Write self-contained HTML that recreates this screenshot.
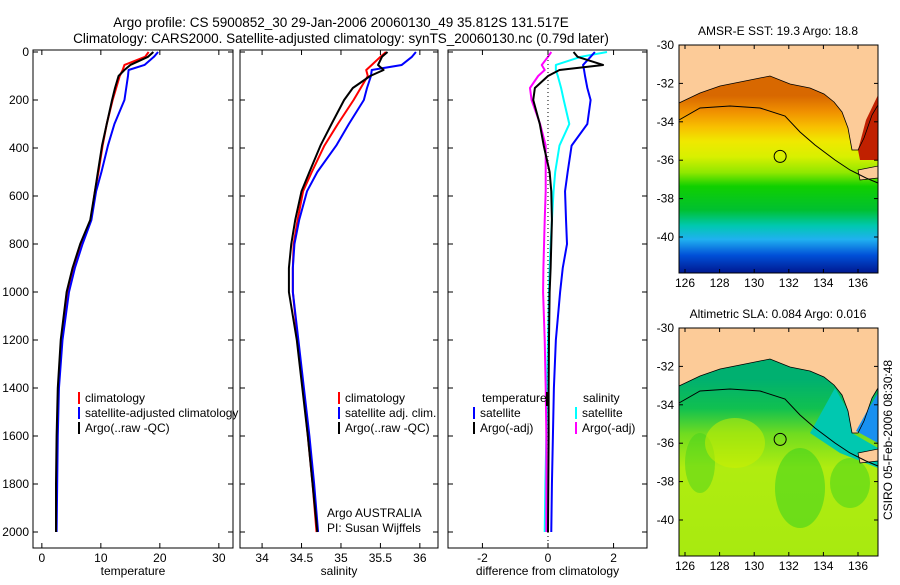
<!DOCTYPE html>
<html><head><meta charset="utf-8"><style>
body{margin:0;background:#fff;}
svg{font-family:"Liberation Sans",sans-serif;font-size:12px;}
</style></head><body>
<svg id="fig" width="900" height="580" viewBox="0 0 900 580" xmlns="http://www.w3.org/2000/svg">
<rect width="900" height="580" fill="#fff"/>
<text x="341" y="27" text-anchor="middle" font-size="13.5">Argo profile: CS 5900852_30 29-Jan-2006 20060130_49 35.812S 131.517E</text>
<text x="341" y="43" text-anchor="middle" font-size="13.5">Climatology: CARS2000. Satellite-adjusted climatology: synTS_20060130.nc (0.79d later)</text>
<g id="panels"></g>
<defs>
<linearGradient id="sst" x1="0" y1="0" x2="0" y2="1">
<stop offset="0.1" stop-color="#d86800"/><stop offset="0.18" stop-color="#f09000"/><stop offset="0.26" stop-color="#f8c000"/>
<stop offset="0.33" stop-color="#f0e800"/><stop offset="0.41" stop-color="#d8f000"/><stop offset="0.49" stop-color="#90e800"/>
<stop offset="0.56" stop-color="#10d000"/><stop offset="0.68" stop-color="#00c030"/><stop offset="0.76" stop-color="#00c8b0"/>
<stop offset="0.83" stop-color="#20b0f0"/><stop offset="0.91" stop-color="#0050d8"/><stop offset="1" stop-color="#001890"/>
</linearGradient>
<linearGradient id="sla" x1="0" y1="0" x2="0" y2="1">
<stop offset="0.1" stop-color="#00b070"/><stop offset="0.25" stop-color="#10c050"/><stop offset="0.38" stop-color="#70dc20"/>
<stop offset="0.55" stop-color="#b0ec10"/><stop offset="1" stop-color="#a8ea10"/>
</linearGradient>
</defs>
<g id="maps"></g>
<text transform="translate(892,440) rotate(-90)" text-anchor="middle" font-size="12">CSIRO 05-Feb-2006 08:30:48</text>
</svg>
<script>
const NS="http://www.w3.org/2000/svg";
// ---- data ----
const depthTicks=[0,200,400,600,800,1000,1200,1400,1600,1800,2000];
const tempTicks=[0,10,20,30];
const salTicks=[34,34.5,35,35.5,36];
const salTickLabels=["34","34.5","35","35.5","36"];
const diffTicks=[-2,0,2];
const depths=[0,20,54,75,100,150,200,300,390,500,580,700,800,900,1000,1200,1400,1600,1800,2000];
const tempClim=[18.1,17.5,14.0,13.7,13.2,12.6,12.0,11.0,10.3,9.6,9.0,8.3,6.6,5.4,4.5,3.3,2.8,2.6,2.5,2.4];
const tempArgo=[18.9,18.0,15.0,14.0,13.0,12.4,11.9,11.0,10.2,9.5,9.0,8.2,6.5,5.2,4.2,3.2,2.7,2.5,2.4,2.4];
const tempSat=[19.7,19.0,17.4,14.7,14.6,14.3,14.0,12.3,11.2,10.1,9.2,8.4,6.9,5.6,4.6,3.5,2.9,2.7,2.6,2.5];
const salClim=[35.57,35.50,35.39,35.32,35.34,35.25,35.16,34.96,34.79,34.63,34.52,34.45,34.40,34.39,34.39,34.45,34.52,34.58,34.64,34.69];
const salArgo=[35.59,35.52,35.47,35.54,35.37,35.15,35.04,34.88,34.74,34.60,34.50,34.42,34.37,34.34,34.34,34.44,34.51,34.58,34.64,34.70];
const salSat=[35.95,35.90,35.77,35.39,35.38,35.33,35.29,35.10,34.94,34.70,34.57,34.47,34.41,34.39,34.39,34.46,34.53,34.60,34.66,34.71];
const dTempSat=[1.43,1.3,1.07,1.1,1.13,1.2,1.3,1.2,0.72,0.6,0.52,0.55,0.58,0.45,0.37,0.24,0.18,0.15,0.12,0.1];
const dTempArgo=[0.78,0.9,1.68,0.35,0.0,-0.4,-0.45,-0.25,-0.13,0.05,0.1,0.12,0.1,0.08,0.05,0.03,0.02,0.02,0.01,0.0];
const dSalSat=[1.8,1.0,0.24,0.24,0.3,0.4,0.48,0.65,0.35,0.22,0.17,0.12,0.08,0.05,0.03,0.0,-0.03,-0.05,-0.08,-0.1];
const dSalArgo=[0.1,0.0,-0.19,-0.1,-0.3,-0.55,-0.5,-0.24,-0.07,-0.07,-0.07,-0.1,-0.12,-0.14,-0.15,-0.1,-0.07,-0.05,-0.05,-0.05];

function el(tag,attrs,parent,text){const e=document.createElementNS(NS,tag);for(const k in attrs)e.setAttribute(k,attrs[k]);if(text!==undefined)e.textContent=text;parent.appendChild(e);return e;}
const yD=d=>52+d*0.24;
const root=document.getElementById('panels');
function panel(name,x0,x1,vmin,vmax,ticks,labels,xlabel,series,showY){
  const g=el('g',{},root);
  
  
  const sx=v=>x0+(v-vmin)/(vmax-vmin)*(x1-x0);
  const top=50,bot=548;
  ticks.forEach((t,i)=>{const x=sx(t);
    el('line',{x1:x,x2:x,y1:top,y2:top+5,stroke:'#000'},g);
    el('line',{x1:x,x2:x,y1:bot,y2:bot-5,stroke:'#000'},g);
    const tl=el('text',{x:x,y:bot+14,'text-anchor':'middle'},g,labels[i]);
    
    
  });
  depthTicks.forEach(d=>{const y=yD(d);
    el('line',{x1:x0,x2:x0+5,y1:y,y2:y,stroke:'#000'},g);
    el('line',{x1:x1,x2:x1-5,y1:y,y2:y,stroke:'#000'},g);
    if(showY){const tl=el('text',{x:x0-4,y:y+4,'text-anchor':'end'},g,String(d));
      
      }
  });
  const xl=el('text',{x:(x0+x1)/2,y:575,'text-anchor':'middle'},g,xlabel);
  
  
  series.forEach(s=>{
    const p=el('polyline',{points:s.v.map((v,i)=>sx(v)+','+yD(depths[i])).join(' '),fill:'none',stroke:s.c,'stroke-width':2,'stroke-linejoin':'round'},g);
    
    
  });
  const fr=el('rect',{x:x0,y:top,width:x1-x0,height:bot-top,fill:'none',stroke:'#000'},g);
  
  
  return {g,sx};
}
panel('temperature-panel',33,233,-1.5,32.4,tempTicks,tempTicks.map(String),'temperature',[
 {n:'temp-climatology',c:'#f00',v:tempClim},{n:'temp-satellite-adjusted',c:'#00f',v:tempSat},{n:'temp-argo',c:'#000',v:tempArgo}],true);
panel('salinity-panel',240,438,33.72,36.23,salTicks,salTickLabels,'salinity',[
 {n:'sal-climatology',c:'#f00',v:salClim},{n:'sal-satellite-adjusted',c:'#00f',v:salSat},{n:'sal-argo',c:'#000',v:salArgo}],false);
const p3=panel('difference-panel',448,647,-3.05,3.02,diffTicks,diffTicks.map(String),'difference from climatology',[
 {n:'diff-salinity-satellite',c:'#0ff',v:dSalSat},{n:'diff-temp-satellite',c:'#00f',v:dTempSat},{n:'diff-salinity-argo',c:'#f0f',v:dSalArgo},{n:'diff-temp-argo',c:'#000',v:dTempArgo}],false);
el('line',{x1:p3.sx(0),x2:p3.sx(0),y1:52,y2:548,stroke:'#000','stroke-dasharray':'1,3'},p3.g);

function legend(x,y,items){
  items.forEach((it,i)=>{const yy=y+i*15;
    const l=el('line',{x1:x,x2:x,y1:yy-10,y2:yy+2,stroke:it[1],'stroke-width':2},root);
    
    
    const t=el('text',{x:x+6,y:yy},root,it[0]);
    
    
  });
}
legend(79,402,[['climatology','#f00'],['satellite-adjusted climatology','#00f'],['Argo(..raw -QC)','#000']]);
legend(339,402,[['climatology','#f00'],['satellite adj. clim.','#00f'],['Argo(..raw -QC)','#000']]);
legend(474,417,[['satellite','#00f'],['Argo(-adj)','#000']]);
legend(576,417,[['satellite','#0ff'],['Argo(-adj)','#f0f']]);
[['temperature',482,402],['salinity',583,402]].forEach(a=>{const t=el('text',{x:a[1],y:a[2]},root,a[0]);
  
  });
const r1=el('rect',{x:546,y:392,width:3,height:14,fill:'#000'},root);


[['Argo AUSTRALIA',517],['PI: Susan Wijffels',532]].forEach(a=>{const t=el('text',{x:327,y:a[1]},root,a[0]);
  
  });

// ---- maps ----
const maps=document.getElementById('maps');
const lonTicks=[126,128,130,132,134,136];
const latTicks=[-30,-32,-34,-36,-38,-40];
function map(name,y0,fill,title,extra){
  const g=el('g',{},maps);
  
  
  const x0=679,x1=878,y1=y0+228;
  const lx=v=>685+(v-126)*17.3, ly=v=>y0+(-30-v)*19.2;
  el('rect',{x:x0,y:y0,width:x1-x0,height:y1-y0,fill:'#fccb98'},g);
  const o=y0-45;
  const coast=[[679,103],[700,93],[720,86],[745,81],[770,76],[790,84],[810,88],[824,94],[834,102],[842,112],[848,128],[852,150],[858,150],[864,138],[872,115],[878,105],[878,273],[679,273]];
  el('polygon',{points:coast.map(p=>p[0]+','+(p[1]+o)).join(' '),fill:'url(#'+fill+')'},g);
  extra(g,o);
  el('polygon',{points:'858,'+(170+o)+' 878,'+(166+o)+' 878,'+(178+o)+' 860,'+(180+o),fill:'#fccb98',stroke:'#000','stroke-width':0.7},g);
  el('polyline',{points:[[679,120],[700,108],[730,106],[760,108],[785,116],[800,132],[815,145],[835,160],[850,170],[866,178],[878,183]].map(p=>p[0]+','+(p[1]+o)).join(' '),fill:'none',stroke:'#000','stroke-width':1},g);
  el('polyline',{points:coast.slice(0,16).map(p=>p[0]+','+(p[1]+o)).join(' '),fill:'none',stroke:'#000','stroke-width':0.8},g);
  const c=el('circle',{cx:lx(131.5),cy:ly(-35.8),r:6,fill:'none',stroke:'#000','stroke-width':1},g);
  
  
  el('rect',{x:x0,y:y0,width:x1-x0,height:y1-y0,fill:'none',stroke:'#000'},g);
  lonTicks.forEach(v=>{const x=lx(v);el('line',{x1:x,x2:x,y1:y1,y2:y1-4,stroke:'#000'},g);el('line',{x1:x,x2:x,y1:y0,y2:y0+4,stroke:'#000'},g);
    const t=el('text',{x:x,y:y1+14,'text-anchor':'middle'},g,String(v));
    
    });
  latTicks.forEach(v=>{const y=ly(v);el('line',{x1:x0,x2:x0+4,y1:y,y2:y,stroke:'#000'},g);el('line',{x1:x1,x2:x1-4,y1:y,y2:y,stroke:'#000'},g);
    const t=el('text',{x:x0-5,y:y+4,'text-anchor':'end'},g,String(v));
    
    });
  const t=el('text',{x:778,y:y0-10,'text-anchor':'middle'},g,title);
  
  
}
map('sst-map',45,'sst','AMSR-E SST: 19.3 Argo: 18.8',(g,o)=>{
  el('polygon',{points:'858,'+(150+o)+' 866,'+(120+o)+' 878,'+(95+o)+' 878,'+(160+o)+' 860,'+(160+o),fill:'#c02000'},g);
});
map('sla-map',328,'sla','Altimetric SLA: 0.084 Argo: 0.016',(g,o)=>{
  el('polygon',{points:'835,'+(105+o)+' 848,'+(128+o)+' 852,'+(150+o)+' 878,'+(165+o)+' 878,'+(185+o)+' 840,'+(170+o)+' 810,'+(150+o),fill:'#00c8b0'},g);
  el('polygon',{points:'856,'+(148+o)+' 866,'+(130+o)+' 878,'+(110+o)+' 878,'+(160+o),fill:'#1890f0'},g);
  el('ellipse',{cx:800,cy:205+o,rx:25,ry:40,fill:'#30d020',opacity:0.5},g);
  el('ellipse',{cx:850,cy:200+o,rx:20,ry:25,fill:'#30d020',opacity:0.45},g);
  el('ellipse',{cx:700,cy:180+o,rx:15,ry:30,fill:'#40d020',opacity:0.45},g);
  el('ellipse',{cx:735,cy:160+o,rx:30,ry:25,fill:'#d0f000',opacity:0.5},g);
});
</script>
</body></html>
